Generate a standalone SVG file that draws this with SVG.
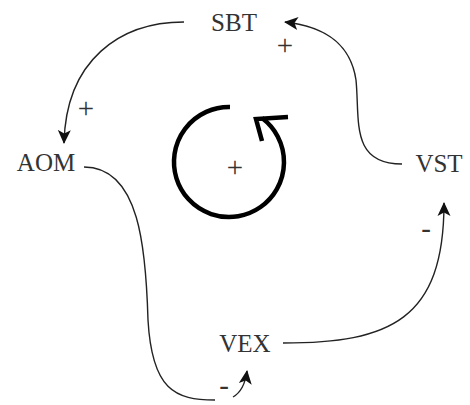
<svg xmlns="http://www.w3.org/2000/svg" width="470" height="405" viewBox="0 0 470 405">
<style>
.lbl{font-family:"Liberation Serif","Times New Roman",serif;font-size:25px;fill:#333;text-anchor:middle}
.sgn{font-family:"Liberation Serif","Times New Roman",serif;font-size:29px;fill:#333;text-anchor:middle}
.edge{fill:none;stroke:#222;stroke-width:1.4}
</style>
<defs>
<marker id="ah" viewBox="0 0 14 14" refX="13" refY="7" markerWidth="14" markerHeight="14" markerUnits="userSpaceOnUse" orient="auto">
<path d="M0,0.5 L14,7 L0,13.5 L3.5,7 Z" fill="#111"/>
</marker>
</defs>
<rect width="470" height="405" fill="#fff"/>
<g id="connectors">
<path class="edge" d="M184,22 C120,22 66,60 64,143" marker-end="url(#ah)"/>
<path class="edge" d="M402,164 C350,164 360,120 356,80 C350,40 320,26 285,22" marker-end="url(#ah)"/>
<path class="edge" d="M283,343 C390,343 444,320 444,203" marker-end="url(#ah)"/>
<path class="edge" d="M84,167 C140,167 146,250 148,320 C152,390 175,400 215,400"/>
<path class="edge" d="M233,397 C240,393 245,386 247,371" marker-end="url(#ah)"/>
</g>
<g id="label-sbt-aom"><text class="sgn" x="86" y="118">+</text></g>
<g id="label-vst-sbt"><text class="sgn" x="285" y="55">+</text></g>
<g id="label-vex-vst"><text class="sgn" x="426" y="238">-</text></g>
<g id="label-aom-vex"><text class="sgn" x="224" y="395">-</text></g>
<g id="node-sbt"><text class="lbl" x="234" y="31">SBT</text></g>
<g id="node-aom"><text class="lbl" x="46" y="171">AOM</text></g>
<g id="node-vst"><text class="lbl" x="439" y="172">VST</text></g>
<g id="node-vex"><text class="lbl" x="245" y="352">VEX</text></g>
<g id="loop">
<path d="M230,107 A55,55 0 1 0 262,118" fill="none" stroke="#000" stroke-width="4.5"/>
<path d="M262,141 L256,119 L288,117" fill="none" stroke="#000" stroke-width="4.5"/>
<text class="sgn" x="235" y="177">+</text>
</g>
</svg>
